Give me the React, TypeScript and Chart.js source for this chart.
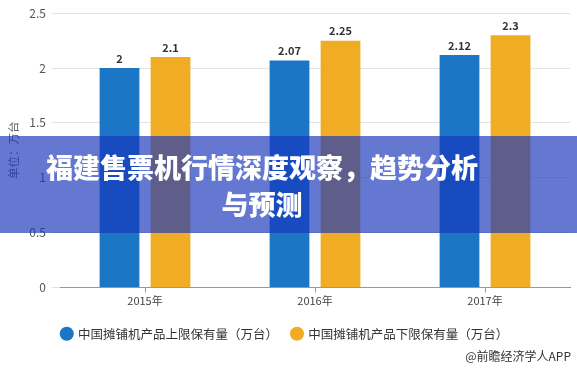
import React, { useEffect, useRef } from "react";
import { Chart, registerables } from "chart.js";

Chart.register(...registerables);

const categories = ["2015年", "2016年", "2017年"];
const upperValues = [2, 2.07, 2.12];
const lowerValues = [2.1, 2.25, 2.3];
const seriesNames = ["中国摊铺机产品上限保有量（万台）", "中国摊铺机产品下限保有量（万台）"];
const yTitle = "单位：万台";
const bannerTitle = "福建售票机行情深度观察，趋势分析与预测";
const sourceText = "@前瞻经济学人APP";

const FONT = "'Microsoft YaHei', 'Noto Sans CJK SC', sans-serif";

const valueLabels = {
  id: "valueLabels",
  afterDatasetsDraw(chart: any) {
    const ctx = chart.ctx;
    ctx.save();
    ctx.font = `bold 11px ${FONT}`;
    ctx.fillStyle = "#333";
    ctx.textAlign = "center";
    ctx.textBaseline = "bottom";
    chart.data.datasets.forEach((ds: any, i: number) => {
      const meta = chart.getDatasetMeta(i);
      meta.data.forEach((bar: any, j: number) => {
        ctx.fillText(String(ds.data[j]), bar.x, bar.y - 4);
      });
    });
    ctx.restore();
  },
};

export default function App() {
  const ref = useRef<HTMLCanvasElement>(null);
  useEffect(() => {
    document.body.style.margin = "0";
    const chart = new Chart(ref.current!, {
      type: "bar",
      data: {
        labels: categories,
        datasets: [
          { label: seriesNames[0], data: upperValues, backgroundColor: "#1B76C6" },
          { label: seriesNames[1], data: lowerValues, backgroundColor: "#F0AD24" },
        ],
      },
      options: {
        animation: false,
        responsive: false,
        devicePixelRatio: 1,
        datasets: { bar: { categoryPercentage: 0.6, barPercentage: 0.78 } },
        layout: { padding: { top: 8, right: 7, bottom: 20, left: 0 } },
        scales: {
          x: {
            grid: { drawOnChartArea: false, offset: false, tickLength: 5, color: "#999" },
            border: { display: true, color: "#999" },
            ticks: { color: "#444", font: { size: 11, family: FONT }, padding: 2 },
            afterFit: (s: any) => { s.height = 26; },
          },
          y: {
            min: 0,
            max: 2.5,
            ticks: {
              stepSize: 0.5,
              color: "#555",
              font: { size: 12, family: FONT },
              padding: 6,
              callback: (v: any) => String(Number(v)),
            },
            grid: { color: "#e3e3e3", tickLength: 8, tickColor: "#e3e3e3" },
            border: { display: false },
            title: { display: true, text: yTitle, color: "#666", font: { size: 11.5, family: FONT }, padding: { top: 7, bottom: 0 } },
            afterFit: (s: any) => { s.width = 60; },
          },
        },
        plugins: {
          legend: {
            position: "bottom",
            labels: {
              usePointStyle: true,
              pointStyle: "circle",
              boxWidth: 10,
              boxHeight: 10,
              padding: 14,
              color: "#333",
              font: { size: 12.5, family: FONT },
            },
          },
          tooltip: { enabled: false },
        },
      },
      plugins: [valueLabels],
    });
    return () => chart.destroy();
  }, []);

  return (
    <div style={{ position: "relative", width: 577, height: 370, background: "#fff", overflow: "hidden" }}>
      <canvas ref={ref} width={577} height={370} style={{ position: "absolute", left: 0, top: 0 }} />
      <div
        style={{
          position: "absolute",
          left: 0,
          top: 136,
          width: 577,
          height: 97,
          background: "rgba(24,54,188,0.67)",
          display: "flex",
          alignItems: "center",
        }}
      >
        <div
          style={{
            width: 524,
            textAlign: "center",
            color: "#fff",
            fontFamily: FONT,
            fontWeight: 900,
            fontSize: 27,
            lineHeight: "37px",
            padding: "0 40px",
            boxSizing: "border-box",
          }}
        >
          {bannerTitle}
        </div>
      </div>
      <div
        style={{
          position: "absolute",
          right: 6,
          top: 347,
          fontFamily: FONT,
          fontSize: 12,
          color: "#333",
        }}
      >
        {sourceText}
      </div>
    </div>
  );
}
